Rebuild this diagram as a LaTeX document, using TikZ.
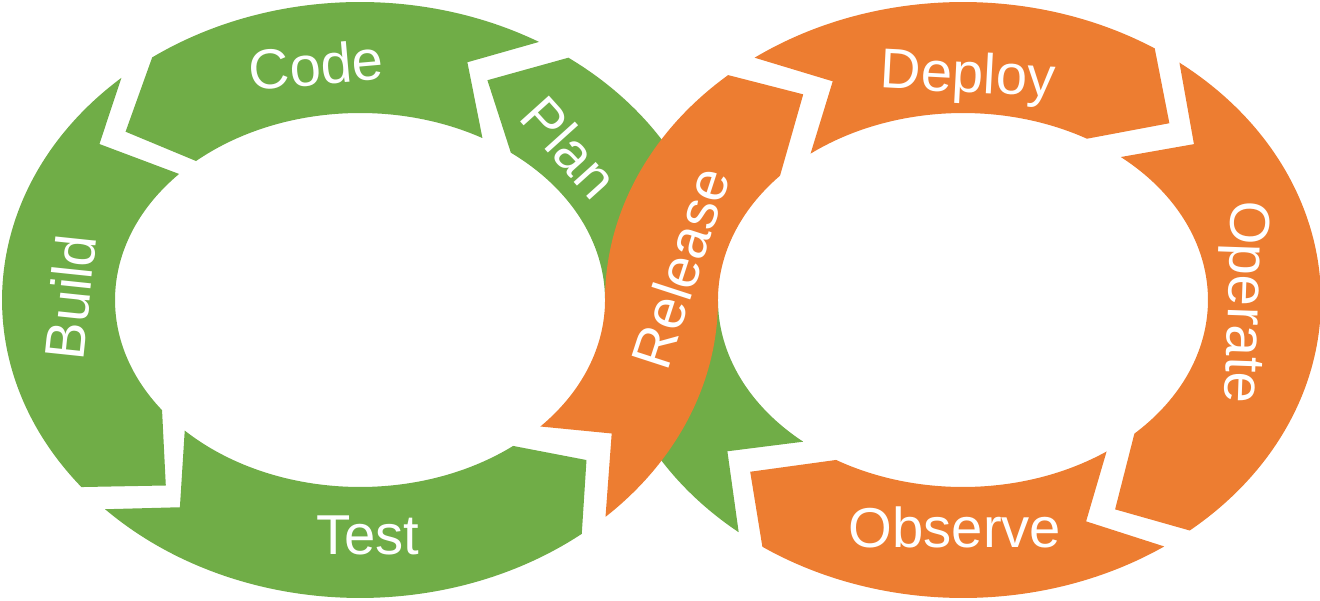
\documentclass[tikz,border=0pt]{standalone}
\usepackage{fontspec}
\setmainfont{Liberation Sans}
\usetikzlibrary{calc}

\definecolor{devgreen}{HTML}{70AD47}
\definecolor{devorange}{HTML}{ED7D31}

\begin{document}
\begin{tikzpicture}[
    x=0.02cm, y=0.02cm,
    outer arc/.style={x radius=7.16cm, y radius=5.96cm},
    inner arc/.style={x radius=4.9cm, y radius=3.74cm},
    green seg/.style={fill=devgreen},
    orange seg/.style={fill=devorange},
    phase text/.style={
        text=white,
        font=\fontsize{32}{32}\selectfont,
        inner sep=0pt
    }
]

    \useasboundingbox (0,0) rectangle (1320,600);
    \coordinate (L) at (360,300);
    \coordinate (R) at (963,300);

    % Code
    \fill[green seg] ($(L)+(60:358 and 298)$) arc[outer arc, start angle=60, end angle=125.5]
        -- ($(L)+(138.3:314 and 253)$) -- ($(L)+(132:245 and 187)$)
        arc[inner arc, start angle=132, end angle=60]
        -- ($(L)+(70:314 and 253)$) -- cycle;

    % Build
    \fill[green seg] ($(L)+(131.8:358 and 298)$) arc[outer arc, start angle=131.8, end angle=218.9]
        -- ($(L)+(229.9:301.5 and 242.5)$) -- ($(L)+(216.1:245 and 187)$)
        arc[inner arc, start angle=216.1, end angle=137.6]
        -- ($(L)+(143.3:325 and 261)$) -- cycle;

    % Test
    \fill[green seg] ($(L)+(224.6:358 and 298)$) arc[outer arc, start angle=224.6, end angle=308.3]
        -- ($(L)+(318.7:301.5 and 242.5)$) -- ($(L)+(308.7:245 and 187)$)
        arc[inner arc, start angle=308.7, end angle=224.3]
        -- ($(L)+(235:314 and 253)$) -- cycle;

    % Plan (comes over from the right ring)
    \fill[green seg] ($(R)+(-128.8:358 and 298)$) arc[outer arc, start angle=-128.8, end angle=-180]
        arc[inner arc, start angle=0, end angle=52]
        -- ($(L)+(65:301.5 and 242.5)$) -- ($(L)+(54.4:358 and 298)$)
        arc[outer arc, start angle=54.4, end angle=0]
        arc[inner arc, start angle=180, end angle=229.3]
        -- ($(R)+(218.6:301.5 and 242.5)$) -- cycle;

    % Deploy
    \fill[orange seg] ($(R)+(125.6:358 and 298)$) arc[outer arc, start angle=125.6, end angle=57.6]
        -- ($(R)+(46.8:301.5 and 242.5)$) -- ($(R)+(59.6:245 and 187)$)
        arc[inner arc, start angle=59.6, end angle=128.5]
        -- ($(R)+(115.6:301.5 and 242.5)$) -- cycle;

    % Operate
    \fill[orange seg] ($(R)+(52.8:358 and 298)$) arc[outer arc, start angle=52.8, end angle=-50.7]
        -- ($(R)+(-59.7:301.5 and 242.5)$) -- ($(R)+(-45.6:245 and 187)$)
        arc[inner arc, start angle=-45.6, end angle=49.9]
        -- ($(R)+(40:301.5 and 242.5)$) -- cycle;

    % Observe
    \fill[orange seg] ($(R)+(-55.8:358 and 298)$) arc[outer arc, start angle=-55.8, end angle=-124.1]
        -- ($(R)+(-134.9:301.5 and 242.5)$) -- ($(R)+(-121.2:245 and 187)$)
        arc[inner arc, start angle=-121.2, end angle=-54.1]
        -- ($(R)+(-65.9:301.5 and 242.5)$) -- cycle;

    % Release (crosses over Plan)
    \fill[orange seg] ($(L)+(-46.7:358 and 298)$) arc[outer arc, start angle=-46.7, end angle=0]
        arc[inner arc, start angle=180, end angle=138.3]
        -- ($(R)+(122:301.5 and 242.5)$) -- ($(R)+(131:358 and 298)$)
        arc[outer arc, start angle=131, end angle=180]
        arc[inner arc, start angle=0, end angle=-42.6]
        -- ($(L)+(-33.4:301.5 and 242.5)$) -- cycle;

    % Labels
    \node[phase text, rotate=5] (code) at (316,535) {Code};
    \node[phase text, rotate=-48] (plan) at (570,453) {Plan};
    \node[phase text, rotate=84] (build) at (70,303) {Build};
    \node[phase text] (test) at (368,65) {Test};
    \node[phase text, rotate=72] (release) at (680,332) {Release};
    \node[phase text, rotate=-3] (deploy) at (968,522) {Deploy};
    \node[phase text, rotate=-92] (operate) at (1242,298) {Operate};
    \node[phase text] (observe) at (955,73) {Observe};

\end{tikzpicture}
\end{document}
